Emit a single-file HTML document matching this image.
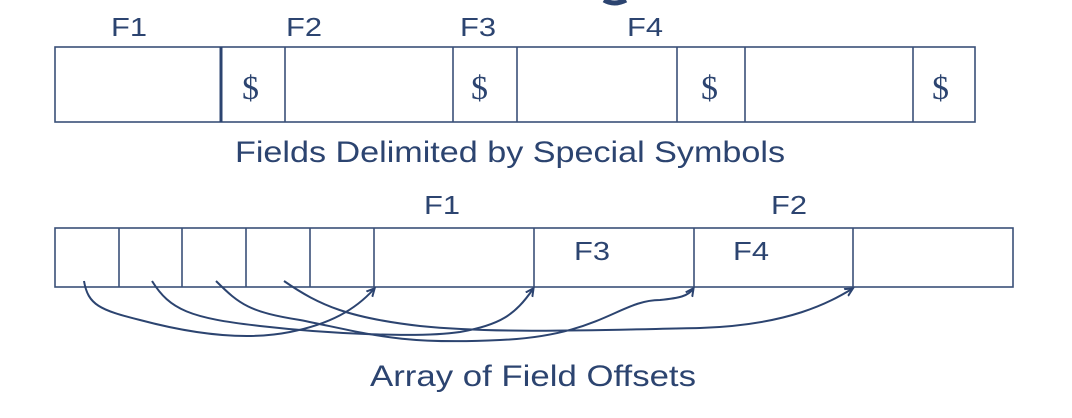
<!DOCTYPE html>
<html><head><meta charset="utf-8"><style>
html,body{margin:0;padding:0;background:#fff;width:1072px;height:418px;overflow:hidden}
svg{display:block}
text{font-family:"Liberation Sans",sans-serif;fill:#2c4470}
</style></head><body>
<svg width="1072" height="418" viewBox="0 0 1072 418" xmlns="http://www.w3.org/2000/svg">
<defs>
<marker id="ah" markerWidth="10" markerHeight="10" refX="7" refY="5" orient="auto" markerUnits="userSpaceOnUse">
<path d="M0,1 L8,5 L0,9" fill="none" stroke="#2c4470" stroke-width="2"/>
</marker>
</defs>
<path d="M604,0 Q614,6 626,0" fill="none" stroke="#2c4470" stroke-width="5"/>
<text x="111" y="36" font-size="26" textLength="36" lengthAdjust="spacingAndGlyphs">F1</text>
<text x="286" y="36" font-size="26" textLength="36" lengthAdjust="spacingAndGlyphs">F2</text>
<text x="460" y="36" font-size="26" textLength="36" lengthAdjust="spacingAndGlyphs">F3</text>
<text x="627" y="36" font-size="26" textLength="36" lengthAdjust="spacingAndGlyphs">F4</text>
<g stroke="#3a5078" stroke-width="1.6" fill="none">
<rect x="55" y="47" width="920" height="75"/>
<line x1="285" y1="47" x2="285" y2="122"/>
<line x1="453" y1="47" x2="453" y2="122"/>
<line x1="517" y1="47" x2="517" y2="122"/>
<line x1="677" y1="47" x2="677" y2="122"/>
<line x1="745" y1="47" x2="745" y2="122"/>
<line x1="913" y1="47" x2="913" y2="122"/>
</g>
<line x1="221" y1="47" x2="221" y2="122" stroke="#2c4470" stroke-width="3"/>
<text x="242" y="99" font-size="34" style="font-family:'Liberation Serif',serif">$</text>
<text x="471" y="99" font-size="34" style="font-family:'Liberation Serif',serif">$</text>
<text x="701" y="99" font-size="34" style="font-family:'Liberation Serif',serif">$</text>
<text x="932" y="99" font-size="34" style="font-family:'Liberation Serif',serif">$</text>
<text x="235" y="162" font-size="30" textLength="550" lengthAdjust="spacingAndGlyphs">Fields Delimited by Special Symbols</text>
<text x="424" y="214" font-size="26" textLength="36" lengthAdjust="spacingAndGlyphs">F1</text>
<text x="771" y="214" font-size="26" textLength="36" lengthAdjust="spacingAndGlyphs">F2</text>
<text x="574" y="260" font-size="26" textLength="36" lengthAdjust="spacingAndGlyphs">F3</text>
<text x="733" y="260" font-size="26" textLength="36" lengthAdjust="spacingAndGlyphs">F4</text>
<g stroke="#3a5078" stroke-width="1.6" fill="none">
<rect x="55" y="228" width="958" height="59"/>
<line x1="119" y1="228" x2="119" y2="287"/>
<line x1="182" y1="228" x2="182" y2="287"/>
<line x1="246" y1="228" x2="246" y2="287"/>
<line x1="310" y1="228" x2="310" y2="287"/>
<line x1="374" y1="228" x2="374" y2="287"/>
<line x1="534" y1="228" x2="534" y2="287"/>
<line x1="694" y1="228" x2="694" y2="287"/>
<line x1="853" y1="228" x2="853" y2="287"/>
</g>
<g stroke="#2c4470" stroke-width="2" fill="none" marker-end="url(#ah)">
<path d="M84,281 C88,305 100,310 140,320 C200,336 250,340 290,332 C330,324 355,310 374,289"/>
<path d="M152,281 C170,310 190,318 260,326 C330,334 420,338 460,332 C500,325 515,315 533,289"/>
<path d="M216,281 C240,305 250,312 300,320 C370,334 400,345 500,340 C600,336 620,300 660,300 C680,298 688,296 693,289"/>
<path d="M284,281 C320,306 350,318 420,326 C500,334 600,330 700,328 C790,325 830,302 852,289"/>
</g>
<text x="370" y="386" font-size="30" textLength="326" lengthAdjust="spacingAndGlyphs">Array of Field Offsets</text>
</svg>
</body></html>
